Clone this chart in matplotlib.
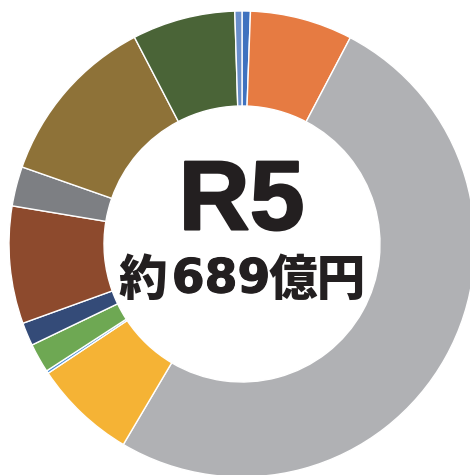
import matplotlib
matplotlib.use("Agg")
import matplotlib.pyplot as plt
import matplotlib.patheffects as pe

# amounts in 億円, clockwise from 12 o'clock
values = [4.0, 49.0, 350.1, 49.2, 1.3, 14.0, 11.1, 56.1, 18.9, 82.7, 49.2, 3.4]
colors = ["#3F72BF", "#E67B42", "#B0B1B4", "#F5B335", "#4A8FD6", "#6EA853",
          "#344B78", "#8D4A2D", "#7D7F83", "#8E7238", "#4A6437", "#6A8FCB"]
title = "R5"
sub_parts = ["約", "689", "億円"]

fig = plt.figure(figsize=(4.7, 4.75), dpi=100)
ax = fig.add_axes([0, 0, 1, 1])

# pixel-like coordinates: width 470, height 475 (y up)
cx, cy = 242, 475 - 244
ax.pie(values, colors=colors, startangle=90, counterclock=False,
       center=(cx, cy), radius=233,
       wedgeprops=dict(width=95, edgecolor="white", linewidth=1))
ax.set_xlim(0, 470)
ax.set_ylim(0, 475)
ax.set_aspect("equal")
ax.axis("off")

ink = "#231F20"
ax.text(241.5, 475 - 204, title, ha="center", va="center",
        fontsize=71, fontweight="bold", color=ink,
        family=["Liberation Sans", "DejaVu Sans"],
        path_effects=[pe.withStroke(linewidth=1.5, foreground=ink)])

y2 = 475 - 281
ax.text(142.5, y2, sub_parts[0], ha="center", va="center",
        fontsize=35, fontweight="heavy", color=ink,
        family=["Noto Sans CJK JP", "DejaVu Sans"])
ax.text(221, y2 + 1, sub_parts[1], ha="center", va="center",
        fontsize=34, fontweight="bold", color=ink,
        family=["DejaVu Sans"],
        path_effects=[pe.withStroke(linewidth=0.8, foreground=ink)])
ax.text(317, y2, sub_parts[2], ha="center", va="center",
        fontsize=35, fontweight="heavy", color=ink,
        family=["Noto Sans CJK JP", "DejaVu Sans"])

fig.savefig("out.png", dpi=100)
